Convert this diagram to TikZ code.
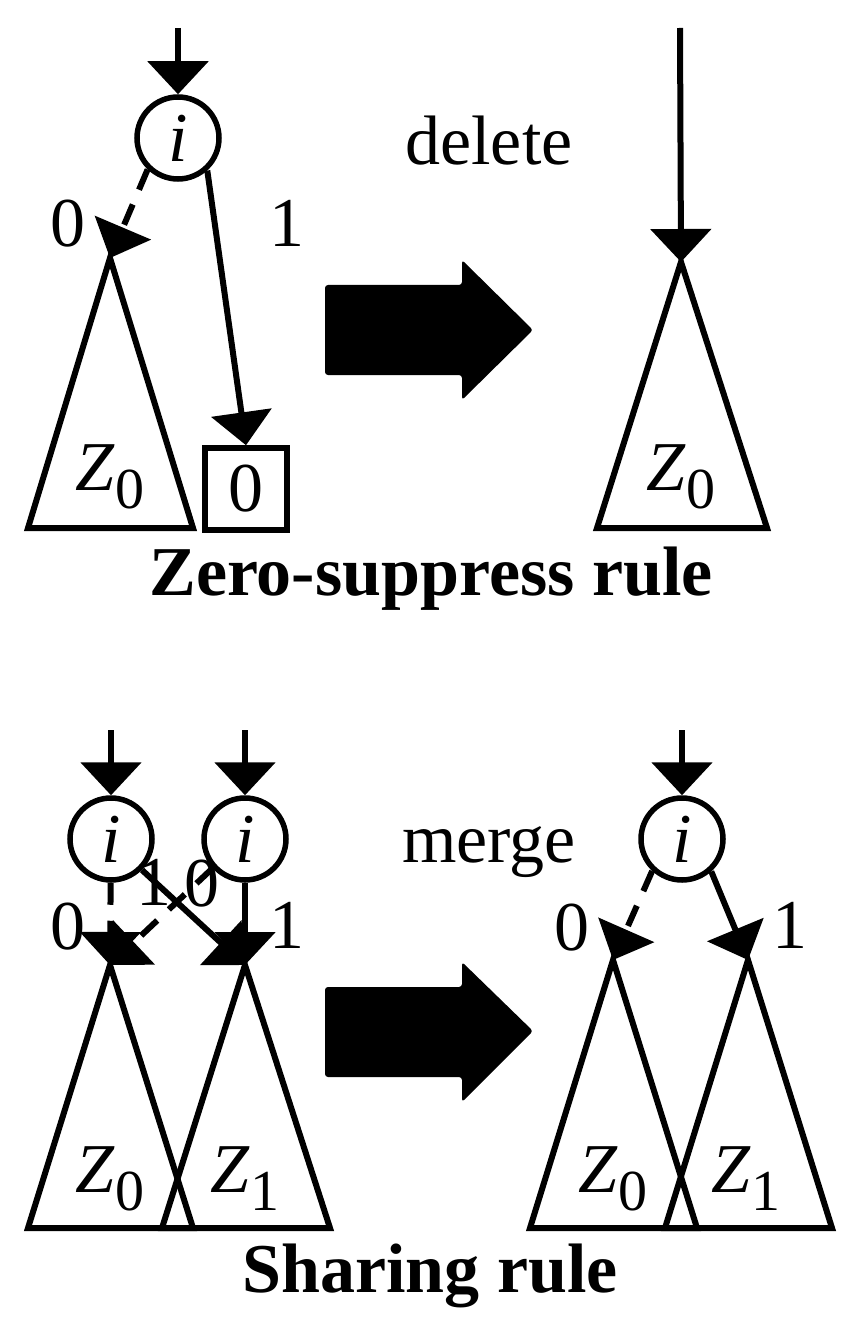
\documentclass[tikz,border=0pt]{standalone}
\usepackage{fontspec}
\setmainfont{Liberation Serif}
\usetikzlibrary{arrows.meta}

\newcommand{\zsub}[1]{\textit{Z}\raisebox{-18pt}{\fontsize{58pt}{58pt}\selectfont #1}}

\begin{document}
\begin{tikzpicture}[x=1pt,y=-1pt,>={Triangle[width=60pt,length=33pt]},
    font=\fontsize{70pt}{84pt}\selectfont,line width=6pt,
    vnode/.style={draw,circle,minimum size=82pt,inner sep=0pt,line width=5.5pt},
    zerobox/.style={draw,minimum size=82pt,inner sep=0pt,line width=5.5pt},
    lab/.style={anchor=base,inner sep=0pt},
    dedge/.style={dash pattern=on 22pt off 16pt},
    bigarrow/.style={fill,rounded corners=3pt},
    title/.style={anchor=base,inner sep=0pt,font=\bfseries\fontsize{70pt}{84pt}\selectfont}]
  \useasboundingbox (0,0) rectangle (862,1329);

  % zero-suppress rule, left
  \coordinate (zin) at (178,28);
  \node[vnode] (zi) at (178,138) {\textit{i}};
  \coordinate (za) at (110,258);
  \draw (za) -- (28,528) -- (193,528) -- cycle;
  \node[lab] (zalab) at (110,490) {\zsub{0}};
  \node[zerobox] (zbox) at (246,489) {0};
  \draw[->] (zin) -- (zi);
  \draw[dedge,->] (zi.226) -- (za);
  \draw[->] (zi.312) -- (zbox.north);
  \node[lab] (zl0) at (68,247) {0};
  \node[lab] (zl1) at (287,247) {1};

  \node[lab] (del) at (489,165) {delete};
  \fill[bigarrow] (325,285) -- (462,285) -- (462,260) -- (533,330)
    -- (462,400) -- (462,375) -- (325,375) -- cycle;

  % zero-suppress rule, right
  \coordinate (rin) at (680,28);
  \coordinate (ra) at (681,262);
  \draw (ra) -- (597,528) -- (767,528) -- cycle;
  \node[lab] (ralab) at (681,490) {\zsub{0}};
  \draw[->] (rin) -- (ra);

  \node[title] (zrule) at (431,595) {Zero-suppress rule};

  % sharing rule, left
  \coordinate (sin1) at (111,730);
  \coordinate (sin2) at (245,730);
  \node[vnode] (si1) at (111,839) {\textit{i}};
  \node[vnode] (si2) at (245,839) {\textit{i}};
  \coordinate (sa0) at (110,965);
  \coordinate (sa1) at (245,965);
  \draw (sa0) -- (28,1228) -- (193,1228) -- cycle;
  \draw (sa1) -- (162,1228) -- (330,1228) -- cycle;
  \node[lab] (sa0lab) at (110,1192) {\zsub{0}};
  \node[lab] (sa1lab) at (245,1192) {\zsub{1}};
  \draw[->] (sin1) -- (si1);
  \draw[->] (sin2) -- (si2);
  \draw[dedge,->] (si1) -- (sa0);
  \draw[->] (si1.315) -- (sa1);
  \draw[dedge,->] (si2.222) -- (sa0);
  \draw[->] (si2) -- (sa1);
  \node[lab] (sl0) at (68,949) {0};
  \node[lab] (sl1) at (287,948) {1};
  \node[lab] (sm1) at (154,905) {1};
  \node[lab] (sm0) at (202,906) {0};

  \node[lab] (mrg) at (489,862) {merge};
  \fill[bigarrow] (325,987) -- (462,987) -- (462,962) -- (533,1031)
    -- (462,1102) -- (462,1077) -- (325,1077) -- cycle;

  % sharing rule, right
  \coordinate (tin) at (682,730);
  \node[vnode] (ti) at (682,839) {\textit{i}};
  \coordinate (ta0) at (613,960);
  \coordinate (ta1) at (748,960);
  \draw (ta0) -- (530,1228) -- (697,1228) -- cycle;
  \draw (ta1) -- (665,1228) -- (832,1228) -- cycle;
  \node[lab] (ta0lab) at (613,1192) {\zsub{0}};
  \node[lab] (ta1lab) at (746,1192) {\zsub{1}};
  \draw[->] (tin) -- (ti);
  \draw[dedge,->] (ti.227) -- (ta0);
  \draw[->] (ti.312) -- (ta1);
  \node[lab] (tl0) at (572,950) {0};
  \node[lab] (tl1) at (790,948) {1};

  \node[title] (srule) at (430,1292) {Sharing rule};
\end{tikzpicture}
\end{document}
